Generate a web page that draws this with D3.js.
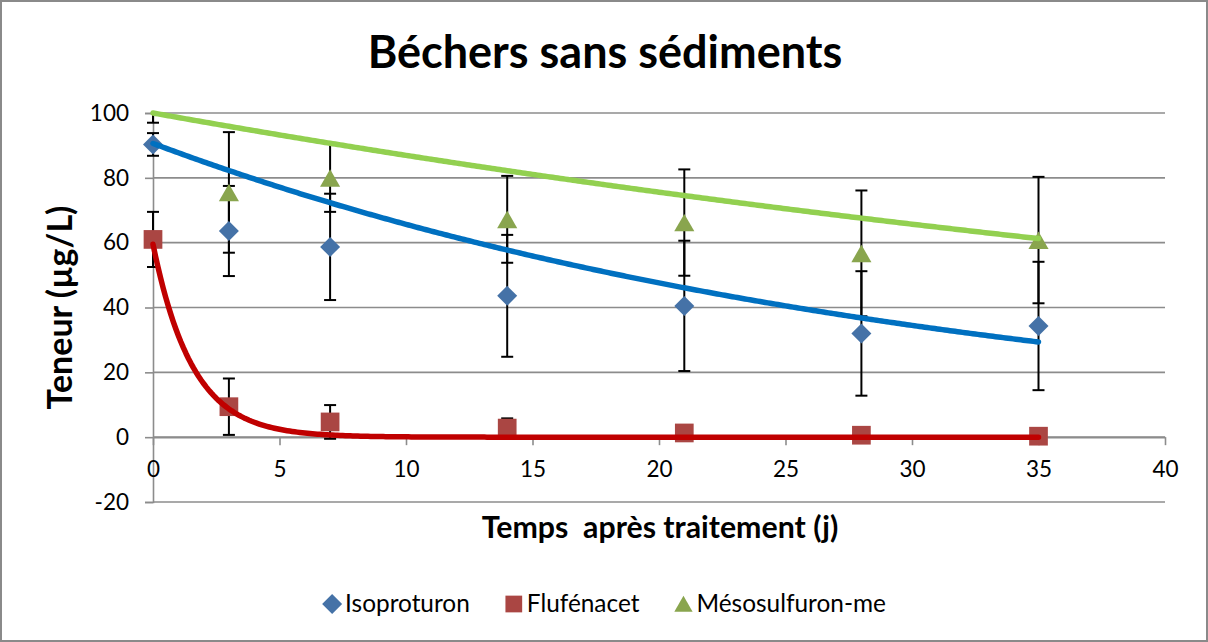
<!DOCTYPE html>
<html><head><meta charset="utf-8">
<script src="https://cdn.jsdelivr.net/npm/d3@7"></script>
<style>
html,body{margin:0;padding:0;background:#fff;}
svg{display:block;font-family:Lato,"Open Sans",sans-serif;}
text{white-space:pre;}
</style></head>
<body>
<svg id="c" width="1208" height="642"></svg>
<script>
// ---- data ----
const days = [0, 3, 7, 14, 21, 28, 35];
const seriesNames = ["Isoproturon", "Flufénacet", "Mésosulfuron-me"];
const isoValues  = [90.3, 63.6, 58.7, 43.6, 40.5, 32.0, 34.3];
const isoErrors  = [3.5, 13.9, 16.4, 18.8, 20.1, 19.2, 19.8];
const fluValues  = [61.0, 9.4, 4.7, 2.8, 1.3, 0.6, 0.3];
const fluErrors  = [8.5, 8.7, 5.2, 3.0, 0.5, 0.3, 0.3];
const mesValues  = [101.0, 75.5, 80.0, 67.2, 66.2, 56.7, 60.8];
const mesErrors  = [4.0, 18.6, 10.5, 13.4, 16.4, 19.4, 19.5];
// exponential trendlines C(t) = C0 * exp(-k t), parameters
const trendC0 = [90.6, 59.5, 100.0];
const trendK  = [0.0322, 0.64, 0.0140];
const trendRange = [0, 35];
const xTicks = [0, 5, 10, 15, 20, 25, 30, 35, 40];
const yTicks = [-20, 0, 20, 40, 60, 80, 100];
const titleText = "Béchers sans sédiments";
const xTitle = "Temps  après traitement (j)";
const yTitle = "Teneur (µg/L)";

// ---- styles ----
const markerColors = ["#4572A7", "#AA4643", "#89A54E"];
const lineColors = ["#0070C0", "#C00000", "#92D050"];
const shapes = [d3.symbolSquare, d3.symbolSquare, d3.symbolTriangle];
const shapeRot = [45, 0, 0];
const shapeSizes = [200, 350, 175];
const legendSizes = [200, 280, 145];
const shapeDy = [0, 0, 3];

const svg = d3.select("#c");
const W = 1208, H = 642;
const plot = {left: 153, right: 1165, top: 113, bottom: 502};

svg.append("rect").attr("x", 1).attr("y", 1).attr("width", W - 2).attr("height", H - 2)
  .attr("fill", "#fff").attr("stroke", "#8a8a8a").attr("stroke-width", 2);

const x = d3.scaleLinear().domain([0, 40]).range([plot.left, plot.right]);
const y = d3.scaleLinear().domain([-20, 100]).range([plot.bottom, plot.top]);

svg.append("defs").append("clipPath").attr("id", "clip")
  .append("rect").attr("x", plot.left - 20).attr("y", plot.top)
  .attr("width", plot.right - plot.left + 40).attr("height", plot.bottom - plot.top);

// gridlines
svg.append("g").selectAll("line").data(yTicks).join("line")
  .attr("x1", plot.left).attr("x2", plot.right)
  .attr("y1", d => y(d)).attr("y2", d => y(d))
  .attr("stroke", "#8c8c8c").attr("stroke-width", 1.6);

// y axis
const yAxis = svg.append("g").attr("transform", `translate(${plot.left},0)`)
  .call(d3.axisLeft(y).tickValues(yTicks).tickSize(8).tickPadding(16).tickFormat(d => String(d)));
yAxis.select(".domain").attr("stroke", "#8c8c8c").attr("stroke-width", 1.6);
yAxis.selectAll(".tick line").attr("stroke", "#8c8c8c").attr("stroke-width", 1.6);
yAxis.selectAll(".tick text").attr("font-size", 22.5).attr("fill", "#000")
  .attr("font-family", "Lato, sans-serif");

// x axis at y=0
const xAxis = svg.append("g").attr("transform", `translate(0,${y(0)})`)
  .call(d3.axisBottom(x).tickValues(xTicks).tickSize(8).tickPadding(16).tickSizeOuter(0).tickFormat(d => String(d)));
xAxis.select(".domain").attr("stroke", "#8c8c8c").attr("stroke-width", 1.6);
xAxis.selectAll(".tick line").attr("stroke", "#8c8c8c").attr("stroke-width", 1.6);
xAxis.selectAll(".tick text").attr("font-size", 22.5).attr("fill", "#000")
  .attr("font-family", "Lato, sans-serif");

const series = [
  {name: seriesNames[0], values: isoValues, errors: isoErrors},
  {name: seriesNames[1], values: fluValues, errors: fluErrors},
  {name: seriesNames[2], values: mesValues, errors: mesErrors}
];

const gData = svg.append("g").attr("clip-path", "url(#clip)");
// error bars
series.forEach((s, si) => {
  const pts = days.map((d, i) => ({d, v: s.values[i], e: s.errors[i]}));
  const g = gData.append("g");
  g.selectAll("line.v").data(pts).join("line").attr("class", "v")
    .attr("x1", p => x(p.d)).attr("x2", p => x(p.d))
    .attr("y1", p => y(p.v - p.e)).attr("y2", p => y(p.v + p.e))
    .attr("stroke", "#000").attr("stroke-width", 2);
  ["lo", "hi"].forEach(k => {
    g.selectAll("line." + k).data(pts).join("line").attr("class", k)
      .attr("x1", p => x(p.d) - 6).attr("x2", p => x(p.d) + 6)
      .attr("y1", p => y(k === "lo" ? p.v - p.e : p.v + p.e))
      .attr("y2", p => y(k === "lo" ? p.v - p.e : p.v + p.e))
      .attr("stroke", "#000").attr("stroke-width", 2);
  });
});
// markers (points outside the axis range are hidden, as in the original)
series.forEach((s, si) => {
  const pts = days.map((d, i) => ({d, v: s.values[i]})).filter(p => p.v <= 100 && p.v >= -20);
  svg.append("g").selectAll("path").data(pts).join("path")
    .attr("d", d3.symbol().type(shapes[si]).size(shapeSizes[si]))
    .attr("transform", p => `translate(${x(p.d)},${y(p.v) + shapeDy[si]}) rotate(${shapeRot[si]})`)
    .attr("fill", markerColors[si]);
});
// trendlines
const line = d3.line().x(p => x(p[0])).y(p => y(p[1])).curve(d3.curveLinear);
series.forEach((s, si) => {
  const ts = d3.range(trendRange[0], trendRange[1] + 0.0001, 0.1);
  const pts = ts.map(t => [t, trendC0[si] * Math.exp(-trendK[si] * t)]);
  svg.append("path").datum(pts).attr("d", line)
    .attr("fill", "none").attr("stroke", lineColors[si]).attr("stroke-width", 5.5)
    .attr("stroke-linecap", "round").attr("stroke-linejoin", "round");
});

// title
svg.append("text").attr("x", 605).attr("y", 68).attr("text-anchor", "middle")
  .attr("font-size", 45).attr("font-weight", "bold").attr("fill", "#000").text(titleText);
// axis titles
svg.append("text").attr("x", 660).attr("y", 538).attr("text-anchor", "middle")
  .attr("font-size", 30.3).attr("font-weight", "bold").attr("fill", "#000").text(xTitle);
svg.append("text").attr("transform", `translate(72,${(plot.top + plot.bottom) / 2}) rotate(-90)`)
  .attr("text-anchor", "middle").attr("font-size", 34).attr("font-weight", "bold")
  .attr("fill", "#000").text(yTitle);

// legend
const legend = svg.append("g");
const items = legend.selectAll("g").data(seriesNames).join("g");
const markerGap = 13;
items.append("path")
  .attr("d", (d, i) => d3.symbol().type(shapes[i]).size(legendSizes[i])())
  .attr("transform", (d, i) => `translate(0,${shapeDy[i] * 0.8}) rotate(${shapeRot[i]})`)
  .attr("fill", (d, i) => markerColors[i]);
items.append("text").attr("x", markerGap).attr("y", 8).attr("font-size", 24.4).attr("fill", "#000").text(d => d);
const widths = [];
items.each(function() { widths.push(this.querySelector("text").getComputedTextLength() + markerGap); });
const gap = 44;
const total = d3.sum(widths) + gap * (widths.length - 1);
let start = 609 - total / 2;
items.attr("transform", (d, i) => {
  const tx = start; start += widths[i] + gap; return `translate(${tx},604)`;
});
</script>
</body></html>
